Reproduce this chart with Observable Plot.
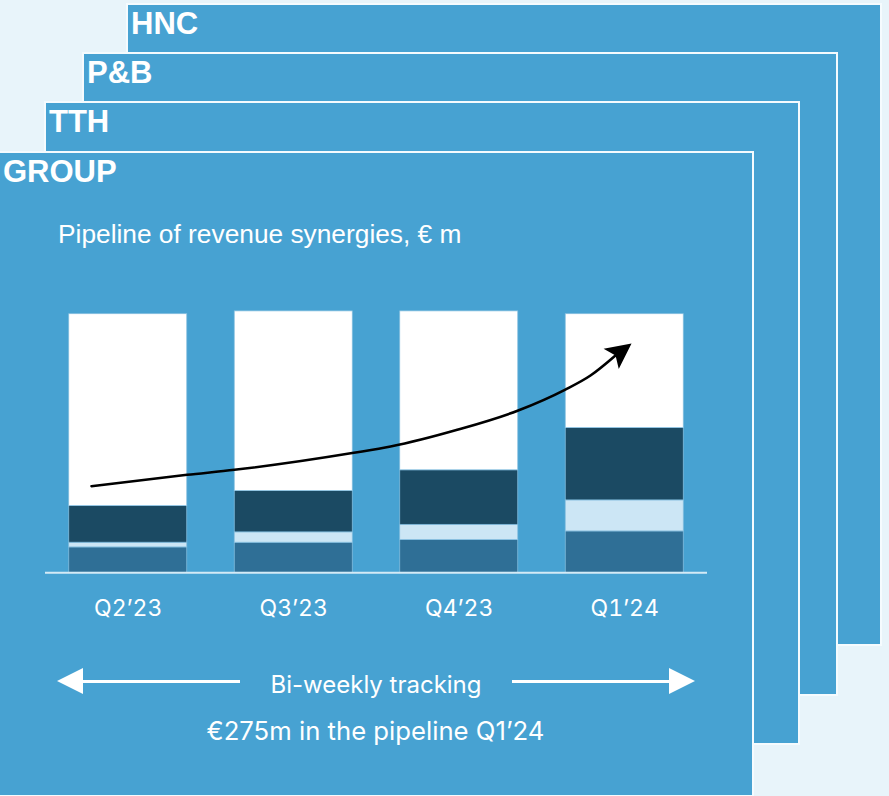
<!DOCTYPE html>
<html>
<head>
<meta charset="utf-8">
<script src="https://cdn.jsdelivr.net/npm/d3@7"></script>
<script src="https://cdn.jsdelivr.net/npm/@observablehq/plot@0.6"></script>
<style>
  html, body { margin: 0; padding: 0; background: #e8f4fa; }
  #page { position: relative; width: 889px; height: 796px; overflow: hidden; background: #e8f4fa;
          font-family: "Liberation Sans", Arial, sans-serif; }
  .card { position: absolute; box-sizing: border-box; width: 756px; height: 644px;
          background: #47a2d2; border: 2px solid #f5fbfe; }
  .card h2 { margin: 0; padding: 3px 0 0 3px; font: bold 31px/1 "Liberation Sans", Arial, sans-serif; color: #fff; }
  .card.k0 { left: 126px; top: 3px; height: 643px; }
  .card.k1 { left: 82px; top: 52px; }
  .card.k2 { left: 44px; top: 101px; }
  .card.k3 { left: -2px; top: 151px; height: 646px; }
  .abs { position: absolute; color: #fff; white-space: nowrap; }
  #subtitle { left: 58px; top: 221px; font: 26.3px/1 "Liberation Sans", Arial, sans-serif; }
  #chart { position: absolute; left: 0; top: 300px; }
  .note { font-family: Inter, "Noto Sans", sans-serif; line-height: 1; text-align: center; }
  #tracking { left: 240px; width: 272px; top: 672.5px; font-size: 24px; }
  #total { left: 100px; width: 551px; top: 718px; font-size: 25.7px; }
  .shaft { position: absolute; height: 3px; background: #fff; top: 679.5px; }
  .head { position: absolute; width: 0; height: 0; top: 668px;
          border-top: 13px solid transparent; border-bottom: 13px solid transparent; }
  .head.left { left: 57px; border-right: 26px solid #fff; }
  .head.right { left: 669px; border-left: 26px solid #fff; }
</style>
</head>
<body>
<div id="page"></div>
<script>
// Business units, drawn back to front
const panels = ["HNC", "P&B", "TTH", "GROUP"];

// Quarters on the x axis
const quarters = ["Q2’23", "Q3’23", "Q4’23", "Q1’24"];

// Pipeline stages, bottom to top (€ m)
const stages = ["Stage 1", "Stage 2", "Stage 3", "Stage 4"];
const stage1 = [27, 32, 35, 44];
const stage2 = [5, 11, 16, 33];
const stage3 = [39, 44, 58, 77];
const stage4 = [204, 191, 169, 121];
const stageColors = ["#2f6f96", "#cce6f5", "#1b4a63", "#ffffff"];

// Growth trend arrow (quarter index, € m)
const trendX = [0.278, 0.856, 1.142, 1.863, 2.085, 2.488, 2.856, 3.138, 3.293, 3.444];
const trendY = [92.1, 104.2, 109.5, 127.6, 134.3, 152.1, 172.6, 194.6, 209.8, 231.1];
const tipX = 3.541, tipY = 243.8;

const page = document.getElementById("page");

panels.forEach((name, k) => {
  const card = document.createElement("div");
  card.className = "card k" + k;
  const h = document.createElement("h2");
  h.textContent = name;
  card.appendChild(h);
  page.appendChild(card);
});

function addText(id, cls, text) {
  const d = document.createElement("div");
  d.id = id;
  d.className = "abs " + cls;
  d.textContent = text;
  page.appendChild(d);
}
addText("subtitle", "", "Pipeline of revenue synergies, € m");

// Stacked table built from the series arrays
const series = [stage1, stage2, stage3, stage4];
const table = [];
quarters.forEach((q, i) => {
  let base = 0;
  series.forEach((s, j) => {
    table.push({quarter: q, i, stage: stages[j], y1: base, y2: base + s[i]});
    base += s[i];
  });
});
const trend = trendX.map((x, i) => ({x, y: trendY[i]}));

// Filled arrowhead pointing up, tip at the origin
const stealth = {
  draw(context) {
    context.moveTo(0, 0);
    context.lineTo(12.6, 25.5);
    context.lineTo(0, 20);
    context.lineTo(-12.6, 25.5);
    context.closePath();
  }
};

const chart = Plot.plot({
  width: 754,
  height: 330,
  marginLeft: 45,
  marginRight: 47,
  marginTop: 9,
  marginBottom: 57.7,
  x: {domain: [0, 4], axis: null},
  y: {domain: [0, 280], axis: null},
  color: {domain: stages, range: stageColors},
  style: {background: "transparent", overflow: "visible", fontFamily: "Inter, sans-serif"},
  marks: [
    Plot.rect(table, {
      x1: "i", x2: d => d.i + 1, y1: "y1", y2: "y2", fill: "stage",
      insetLeft: 23.75, insetRight: 23.75, stroke: "#86bfdf", strokeWidth: 0.75
    }),
    Plot.ruleY([0], {stroke: "#d4eaf6", strokeWidth: 2}),
    Plot.axisX(quarters.map((q, i) => i + 0.5), {
      tickFormat: d => quarters[Math.floor(d)], tickSize: 0, tickPadding: 27,
      fontSize: 23, fill: "#fff", label: null
    }),
    Plot.line(trend, {x: "x", y: "y", curve: "monotone-x", stroke: "#000", strokeWidth: 2.6}),
    Plot.dot([{x: tipX, y: tipY}], {x: "x", y: "y", symbol: stealth, r: 10, fill: "#000", stroke: "none", rotate: 53})
  ]
});
chart.id = "chart";
page.appendChild(chart);

// Tracking band below the chart
[82, 511.7].forEach(left => {
  const s = document.createElement("div");
  s.className = "shaft";
  s.style.left = left + "px";
  s.style.width = "158px";
  page.appendChild(s);
});
["left", "right"].forEach(side => {
  const h = document.createElement("div");
  h.className = "head " + side;
  page.appendChild(h);
});
addText("tracking", "note", "Bi-weekly tracking");
addText("total", "note", "€275m in the pipeline Q1’24");
</script>
</body>
</html>
